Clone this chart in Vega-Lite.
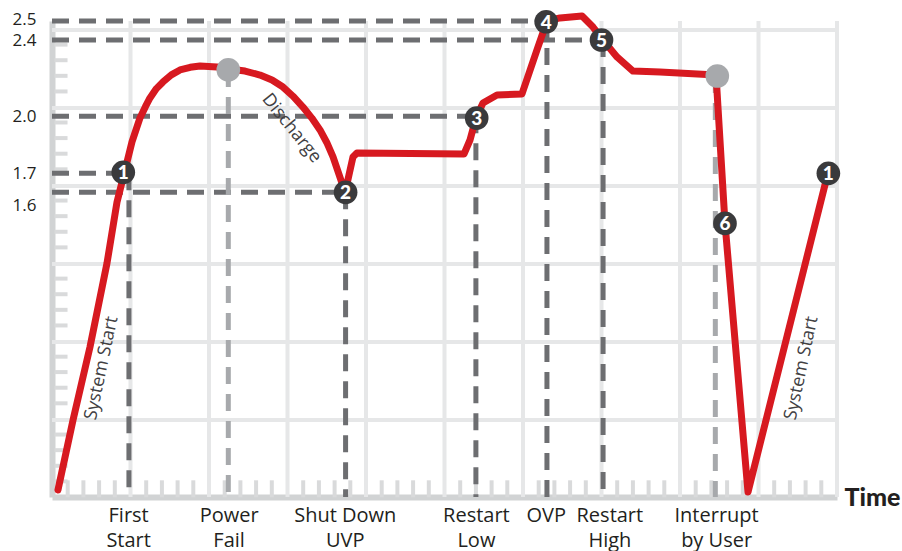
{
  "$schema": "https://vega.github.io/schema/vega-lite/v6.json",
  "width": 785,
  "height": 476,
  "autosize": {"type": "none"},
  "padding": {"left": 52, "top": 21, "right": 65, "bottom": 54},
  "background": "white",
  "config": {"view": {"stroke": null}, "font": "Open Sans"},
  "datasets": {
    "hgrid": [{"v": 0.404}, {"v": 0.814}, {"v": 1.224}, {"v": 1.633}, {"v": 2.043}, {"v": 2.453}],
    "vgrid": [{"g": 1}, {"g": 2}, {"g": 3}, {"g": 4}, {"g": 5}, {"g": 6}, {"g": 7}, {"g": 8}, {"g": 9}, {"g": 10}],
    "xticks": [
      {"t": 0.2}, {"t": 0.4}, {"t": 0.6}, {"t": 0.8},
      {"t": 1.2}, {"t": 1.4}, {"t": 1.6}, {"t": 1.8},
      {"t": 2.2}, {"t": 2.4}, {"t": 2.6}, {"t": 2.8},
      {"t": 3.2}, {"t": 3.4}, {"t": 3.6}, {"t": 3.8},
      {"t": 4.2}, {"t": 4.4}, {"t": 4.6}, {"t": 4.8},
      {"t": 5.2}, {"t": 5.4}, {"t": 5.6}, {"t": 5.8},
      {"t": 6.2}, {"t": 6.4}, {"t": 6.6}, {"t": 6.8},
      {"t": 7.2}, {"t": 7.4}, {"t": 7.6}, {"t": 7.8},
      {"t": 8.2}, {"t": 8.4}, {"t": 8.6}, {"t": 8.8},
      {"t": 9.2}, {"t": 9.4}, {"t": 9.6}, {"t": 9.8}
    ],
    "yticks": [
      {"t": 0.082}, {"t": 0.164}, {"t": 0.246}, {"t": 0.328},
      {"t": 0.492}, {"t": 0.574}, {"t": 0.656}, {"t": 0.737},
      {"t": 0.901}, {"t": 0.983}, {"t": 1.065}, {"t": 1.147},
      {"t": 1.311}, {"t": 1.393}, {"t": 1.475}, {"t": 1.557},
      {"t": 1.721}, {"t": 1.803}, {"t": 1.885}, {"t": 1.967},
      {"t": 2.13}, {"t": 2.212}, {"t": 2.294}, {"t": 2.376}
    ],
    "hdash": [
      {"v": 2.5, "from": 0, "to": 6.3},
      {"v": 2.4, "from": 0, "to": 7.02},
      {"v": 2.0, "from": 0, "to": 5.4},
      {"v": 1.7, "from": 0, "to": 0.91},
      {"v": 1.6, "from": 0, "to": 3.74}
    ],
    "vdash": [
      {"x": 0.98, "v": 1.7, "base": 0, "kind": "event"},
      {"x": 2.246, "v": 2.243, "base": 0, "kind": "fail"},
      {"x": 3.74, "v": 1.6, "base": 0, "kind": "event"},
      {"x": 5.4, "v": 2.0, "base": 0, "kind": "event"},
      {"x": 6.305, "v": 2.5, "base": 0, "kind": "event"},
      {"x": 7.02, "v": 2.4, "base": 0, "kind": "event"},
      {"x": 8.45, "v": 2.211, "base": 0, "kind": "fail"}
    ],
    "curve": [
      {"x": 0.076, "v": 0.037},
      {"x": 0.268, "v": 0.404},
      {"x": 0.484, "v": 0.788},
      {"x": 0.701, "v": 1.229},
      {"x": 0.828, "v": 1.549},
      {"x": 0.93, "v": 1.717},
      {"x": 1.019, "v": 1.865},
      {"x": 1.121, "v": 1.991},
      {"x": 1.19, "v": 2.05},
      {"x": 1.248, "v": 2.096},
      {"x": 1.33, "v": 2.145},
      {"x": 1.414, "v": 2.18},
      {"x": 1.52, "v": 2.217},
      {"x": 1.631, "v": 2.243},
      {"x": 1.76, "v": 2.257},
      {"x": 1.885, "v": 2.264},
      {"x": 2.102, "v": 2.258},
      {"x": 2.255, "v": 2.248},
      {"x": 2.459, "v": 2.237},
      {"x": 2.65, "v": 2.216},
      {"x": 2.803, "v": 2.19},
      {"x": 2.943, "v": 2.153},
      {"x": 3.07, "v": 2.105},
      {"x": 3.197, "v": 2.048},
      {"x": 3.31, "v": 1.99},
      {"x": 3.414, "v": 1.928},
      {"x": 3.5, "v": 1.862},
      {"x": 3.58, "v": 1.786},
      {"x": 3.694, "v": 1.649},
      {"x": 3.733, "v": 1.597},
      {"x": 3.783, "v": 1.691},
      {"x": 3.834, "v": 1.786},
      {"x": 3.885, "v": 1.807},
      {"x": 5.248, "v": 1.801},
      {"x": 5.325, "v": 1.875},
      {"x": 5.401, "v": 1.991},
      {"x": 5.49, "v": 2.069},
      {"x": 5.669, "v": 2.111},
      {"x": 5.987, "v": 2.117},
      {"x": 6.178, "v": 2.348},
      {"x": 6.306, "v": 2.5},
      {"x": 6.471, "v": 2.516},
      {"x": 6.752, "v": 2.526},
      {"x": 6.892, "v": 2.468},
      {"x": 7.019, "v": 2.4},
      {"x": 7.197, "v": 2.311},
      {"x": 7.401, "v": 2.237},
      {"x": 7.745, "v": 2.232},
      {"x": 8.459, "v": 2.216},
      {"x": 8.573, "v": 1.439},
      {"x": 8.866, "v": 0.026},
      {"x": 9.885, "v": 1.702}
    ],
    "fails": [
      {"x": 2.246, "v": 2.243},
      {"x": 8.475, "v": 2.211}
    ],
    "steps": [
      {"x": 0.908, "v": 1.705, "n": "1"},
      {"x": 3.74, "v": 1.6, "n": "2"},
      {"x": 5.41, "v": 1.99, "n": "3"},
      {"x": 6.295, "v": 2.496, "n": "4"},
      {"x": 7.0, "v": 2.4, "n": "5"},
      {"x": 8.573, "v": 1.437, "n": "6"},
      {"x": 9.89, "v": 1.7, "n": "1"}
    ],
    "discharge": [{"x": 3.05, "v": 1.936, "label": "Discharge"}],
    "sysstart": [
      {"x": 0.633, "v": 0.676, "label": "System Start"},
      {"x": 9.55, "v": 0.676, "label": "System Start"}
    ]
  },
  "layer": [
    {
      "data": {"name": "hgrid"},
      "mark": {"type": "rule", "color": "#e6e7e8", "strokeWidth": 4},
      "encoding": {
        "y": {
          "field": "v", "type": "quantitative",
          "scale": {"domain": [0, 2.5], "nice": false, "zero": false},
          "axis": {
            "values": [1.6, 1.7, 2.0, 2.4, 2.5],
            "format": ".1f",
            "labelOverlap": false,
            "labelFlush": false,
            "labelOffset": {"condition": [{"test": "datum.value < 1.65", "value": 13}, {"test": "datum.value > 2.45", "value": -2}], "value": 0},
            "ticks": false,
            "grid": false,
            "domain": true,
            "domainColor": "#d1d3d4",
            "domainWidth": 6,
            "labelFont": "Open Sans",
            "labelFontSize": 17,
            "labelColor": "#231f20",
            "labelPadding": 16,
            "title": null
          }
        }
      }
    },
    {
      "data": {"name": "vgrid"},
      "mark": {"type": "rule", "color": "#e6e7e8", "strokeWidth": 4},
      "encoding": {
        "x": {
          "field": "g", "type": "quantitative",
          "scale": {"domain": [0, 10], "nice": false, "zero": false},
          "axis": {
            "values": [0.97, 2.25, 3.73, 5.4, 6.29, 7.1, 8.46],
            "labelExpr": "datum.value < 1.5 ? ['First', 'Start'] : datum.value < 3 ? ['Power', 'Fail'] : datum.value < 4.5 ? ['Shut Down', 'UVP'] : datum.value < 6 ? ['Restart', 'Low'] : datum.value < 6.6 ? 'OVP' : datum.value < 7.5 ? ['Restart', 'High'] : ['Interrupt', 'by User']",
            "labelOverlap": false,
            "labelFlush": false,
            "labelBound": false,
            "ticks": false,
            "grid": false,
            "domain": true,
            "domainColor": "#d1d3d4",
            "domainWidth": 6,
            "labelFont": "Open Sans",
            "labelFontSize": 20,
            "labelColor": "#231f20",
            "labelPadding": 8,
            "labelLineHeight": 25,
            "title": "Time",
            "titleX": 792,
            "titleY": 0,
            "titleAlign": "left",
            "titleBaseline": "middle",
            "titleFont": "Lato",
            "titleFontWeight": 900,
            "titleFontSize": 25,
            "titleColor": "#231f20"
          }
        }
      }
    },
    {
      "data": {"name": "xticks"},
      "mark": {"type": "tick", "orient": "vertical", "color": "#d9dadb", "opacity": 1, "size": 17, "thickness": 4},
      "encoding": {
        "x": {"field": "t", "type": "quantitative"},
        "y": {"datum": 0.043, "type": "quantitative"}
      }
    },
    {
      "data": {"name": "yticks"},
      "mark": {"type": "tick", "orient": "horizontal", "color": "#d9dadb", "opacity": 1, "size": 13, "thickness": 4},
      "encoding": {
        "y": {"field": "t", "type": "quantitative"},
        "x": {"datum": 0.115, "type": "quantitative"}
      }
    },
    {
      "data": {"name": "hdash"},
      "mark": {"type": "rule", "color": "#6d6e71", "strokeWidth": 5, "strokeDash": [17, 10]},
      "encoding": {
        "y": {"field": "v", "type": "quantitative"},
        "x": {"field": "from", "type": "quantitative"},
        "x2": {"field": "to"}
      }
    },
    {
      "data": {"name": "vdash"},
      "mark": {"type": "rule", "strokeWidth": 5, "strokeDash": [17, 10]},
      "encoding": {
        "x": {"field": "x", "type": "quantitative"},
        "y": {"field": "v", "type": "quantitative"},
        "y2": {"field": "base"},
        "color": {"field": "kind", "type": "nominal", "scale": {"domain": ["event", "fail"], "range": ["#6d6e71", "#a7a9ac"]}, "legend": null}
      }
    },
    {
      "data": {"name": "curve"},
      "mark": {"type": "line", "color": "#d71920", "strokeWidth": 7, "strokeCap": "round", "strokeJoin": "round", "interpolate": "linear"},
      "encoding": {
        "x": {"field": "x", "type": "quantitative"},
        "y": {"field": "v", "type": "quantitative"}
      }
    },
    {
      "data": {"name": "fails"},
      "mark": {"type": "point", "filled": true, "color": "#a7a9ac", "opacity": 1, "size": 560},
      "encoding": {
        "x": {"field": "x", "type": "quantitative"},
        "y": {"field": "v", "type": "quantitative"}
      }
    },
    {
      "data": {"name": "steps"},
      "mark": {"type": "point", "filled": true, "color": "#3a3a3c", "opacity": 1, "size": 560},
      "encoding": {
        "x": {"field": "x", "type": "quantitative"},
        "y": {"field": "v", "type": "quantitative"}
      }
    },
    {
      "data": {"name": "steps"},
      "mark": {"type": "text", "color": "white", "font": "Lato", "fontWeight": 900, "fontSize": 19, "align": "center", "baseline": "middle", "dy": 1},
      "encoding": {
        "x": {"field": "x", "type": "quantitative"},
        "y": {"field": "v", "type": "quantitative"},
        "text": {"field": "n", "type": "nominal"}
      }
    },
    {
      "data": {"name": "discharge"},
      "mark": {"type": "text", "color": "#414042", "font": "Open Sans", "fontSize": 18, "angle": 51, "align": "center", "baseline": "middle"},
      "encoding": {
        "x": {"field": "x", "type": "quantitative"},
        "y": {"field": "v", "type": "quantitative"},
        "text": {"field": "label", "type": "nominal"}
      }
    },
    {
      "data": {"name": "sysstart"},
      "mark": {"type": "text", "color": "#414042", "font": "Open Sans", "fontSize": 18, "angle": -78, "align": "center", "baseline": "middle"},
      "encoding": {
        "x": {"field": "x", "type": "quantitative"},
        "y": {"field": "v", "type": "quantitative"},
        "text": {"field": "label", "type": "nominal"}
      }
    }
  ]
}
